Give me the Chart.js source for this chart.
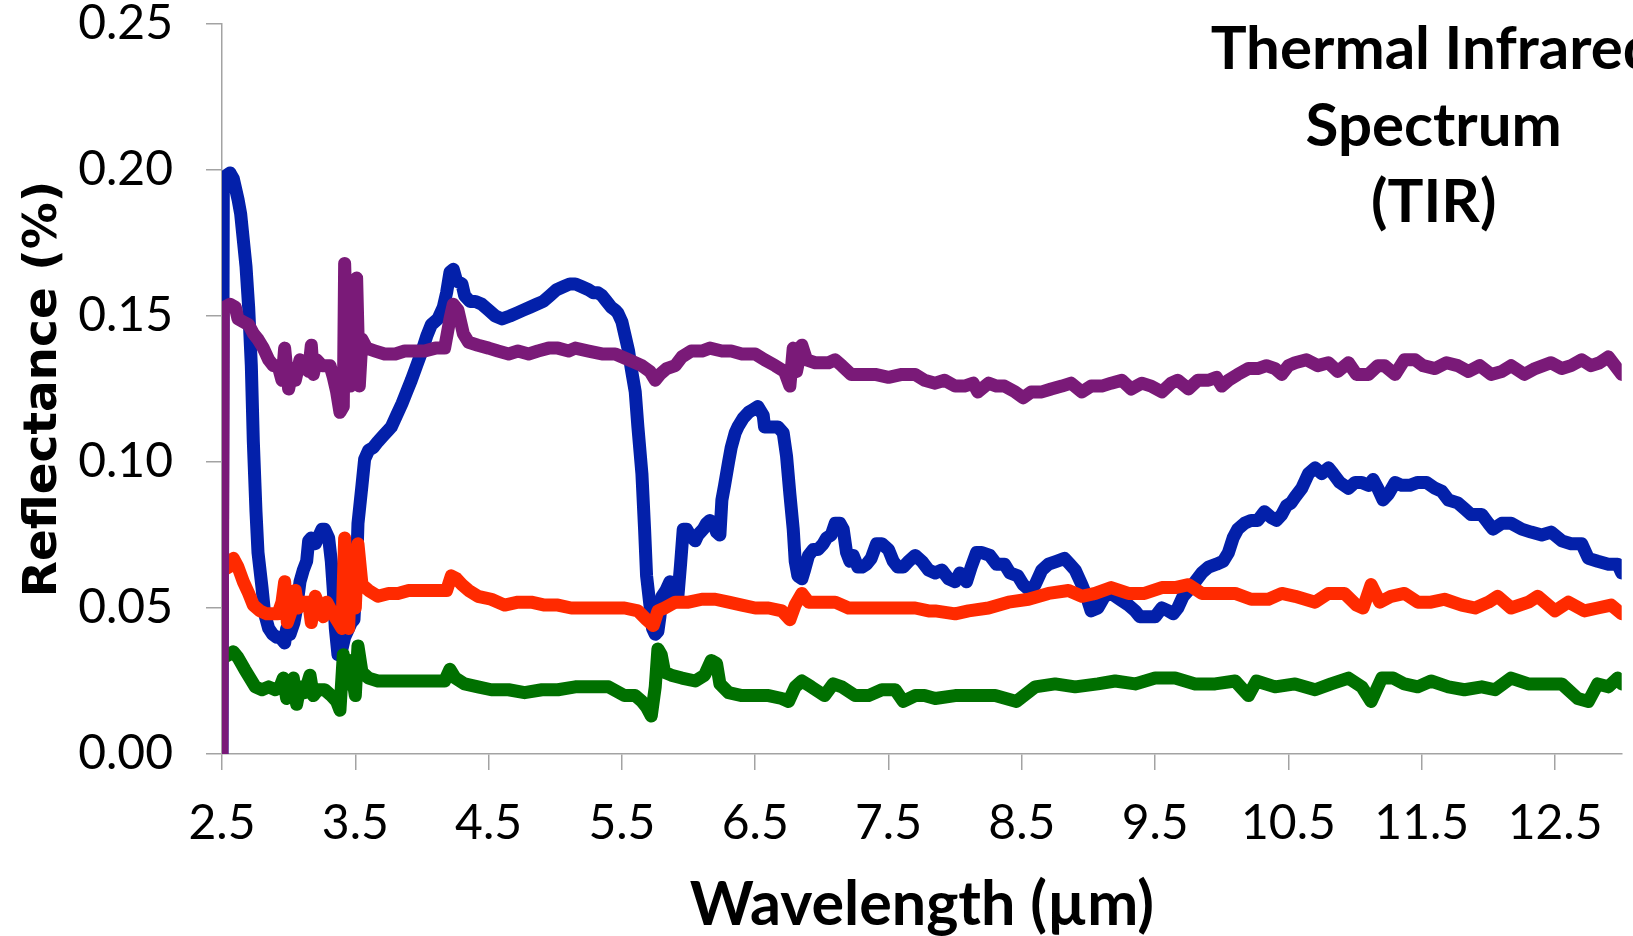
<!DOCTYPE html>
<html>
<head>
<meta charset="utf-8">
<title>Thermal Infrared Spectrum (TIR)</title>
<script src="https://cdn.jsdelivr.net/npm/chart.js@4.4.0/dist/chart.umd.min.js"></script>
<style>
    html, body { margin: 0; padding: 0; background: #fff; }
    #wrap { width: 1633px; height: 936px; }
</style>
</head>
<body>
<div id="wrap"><canvas id="tirChart" width="1633" height="936"></canvas></div>
<script>
// Reflectance spectra, [wavelength in µm, reflectance]
var blueSpec = [[2.50,0],[2.51,0.197],[2.53,0.198],[2.56,0.199],[2.585,0.197],[2.60,0.194],[2.62,0.190],[2.64,0.185],[2.66,0.176],[2.68,0.167],[2.70,0.153],[2.72,0.133],[2.735,0.107],[2.755,0.083],[2.77,0.069],[2.80,0.057],[2.82,0.048],[2.85,0.043],[2.88,0.041],[2.91,0.040],[2.935,0.040],[2.97,0.038],[2.985,0.043],[3.01,0.041],[3.04,0.045],[3.06,0.050],[3.085,0.059],[3.11,0.063],[3.135,0.066],[3.15,0.073],[3.17,0.074],[3.20,0.072],[3.22,0.074],[3.25,0.077],[3.27,0.077],[3.30,0.074],[3.32,0.066],[3.335,0.056],[3.35,0.043],[3.37,0.034],[3.40,0.036],[3.42,0.040],[3.45,0.043],[3.47,0.045],[3.49,0.046],[3.51,0.064],[3.52,0.079],[3.55,0.092],[3.57,0.101],[3.60,0.104],[3.635,0.105],[3.67,0.107],[3.71,0.109],[3.75,0.111],[3.77,0.112],[3.81,0.116],[3.85,0.120],[3.885,0.124],[3.92,0.128],[3.96,0.133],[4.00,0.138],[4.035,0.143],[4.07,0.147],[4.12,0.149],[4.16,0.153],[4.185,0.158],[4.21,0.165],[4.235,0.166],[4.26,0.162],[4.30,0.161],[4.32,0.157],[4.36,0.155],[4.40,0.155],[4.45,0.154],[4.50,0.152],[4.55,0.150],[4.60,0.149],[4.66,0.150],[4.71,0.151],[4.76,0.152],[4.81,0.153],[4.86,0.154],[4.91,0.155],[4.96,0.157],[5.01,0.159],[5.06,0.160],[5.11,0.161],[5.15,0.161],[5.20,0.160],[5.25,0.159],[5.285,0.158],[5.32,0.158],[5.35,0.157],[5.385,0.155],[5.42,0.153],[5.45,0.152],[5.47,0.151],[5.50,0.148],[5.52,0.144],[5.55,0.138],[5.57,0.132],[5.60,0.124],[5.62,0.112],[5.65,0.096],[5.67,0.077],[5.685,0.061],[5.71,0.051],[5.73,0.043],[5.75,0.041],[5.77,0.042],[5.785,0.047],[5.80,0.054],[5.83,0.056],[5.86,0.059],[5.885,0.058],[5.90,0.052],[5.92,0.054],[5.94,0.065],[5.96,0.077],[5.985,0.077],[6.01,0.075],[6.05,0.073],[6.07,0.075],[6.11,0.077],[6.135,0.079],[6.16,0.080],[6.185,0.079],[6.21,0.076],[6.235,0.075],[6.25,0.087],[6.27,0.092],[6.30,0.100],[6.32,0.105],[6.35,0.110],[6.37,0.112],[6.41,0.115],[6.45,0.117],[6.485,0.118],[6.52,0.119],[6.56,0.116],[6.57,0.112],[6.60,0.112],[6.635,0.112],[6.67,0.112],[6.71,0.110],[6.735,0.102],[6.76,0.089],[6.785,0.077],[6.80,0.066],[6.82,0.061],[6.85,0.060],[6.87,0.063],[6.90,0.068],[6.935,0.070],[6.97,0.070],[7.01,0.072],[7.035,0.074],[7.07,0.075],[7.10,0.079],[7.135,0.079],[7.16,0.077],[7.185,0.069],[7.21,0.066],[7.235,0.068],[7.27,0.064],[7.30,0.064],[7.335,0.065],[7.37,0.067],[7.41,0.072],[7.45,0.072],[7.50,0.070],[7.535,0.066],[7.57,0.064],[7.61,0.064],[7.65,0.066],[7.70,0.068],[7.75,0.066],[7.80,0.063],[7.85,0.062],[7.90,0.063],[7.95,0.060],[8.00,0.059],[8.035,0.062],[8.085,0.059],[8.12,0.064],[8.16,0.069],[8.20,0.069],[8.26,0.068],[8.31,0.065],[8.37,0.065],[8.41,0.062],[8.47,0.061],[8.51,0.058],[8.56,0.056],[8.60,0.058],[8.65,0.063],[8.70,0.065],[8.76,0.066],[8.82,0.067],[8.86,0.065],[8.90,0.063],[8.95,0.058],[8.985,0.054],[9.02,0.049],[9.07,0.050],[9.12,0.054],[9.17,0.055],[9.235,0.053],[9.30,0.051],[9.35,0.049],[9.385,0.047],[9.45,0.047],[9.50,0.047],[9.55,0.050],[9.60,0.049],[9.635,0.048],[9.67,0.050],[9.71,0.054],[9.75,0.056],[9.80,0.059],[9.85,0.062],[9.90,0.064],[9.96,0.065],[10.01,0.066],[10.05,0.069],[10.085,0.074],[10.12,0.077],[10.17,0.079],[10.22,0.080],[10.27,0.080],[10.32,0.083],[10.37,0.081],[10.41,0.080],[10.45,0.082],[10.485,0.085],[10.52,0.086],[10.55,0.088],[10.60,0.091],[10.65,0.096],[10.70,0.098],[10.75,0.096],[10.80,0.098],[10.835,0.096],[10.885,0.093],[10.95,0.091],[11.00,0.093],[11.05,0.093],[11.10,0.092],[11.135,0.094],[11.17,0.091],[11.21,0.087],[11.25,0.089],[11.30,0.093],[11.35,0.092],[11.41,0.092],[11.47,0.093],[11.535,0.093],[11.60,0.091],[11.65,0.090],[11.70,0.087],[11.77,0.086],[11.82,0.084],[11.87,0.082],[11.95,0.082],[12.00,0.079],[12.035,0.077],[12.10,0.079],[12.17,0.079],[12.25,0.077],[12.32,0.076],[12.40,0.075],[12.47,0.076],[12.55,0.073],[12.62,0.072],[12.70,0.072],[12.75,0.067],[12.82,0.066],[12.90,0.065],[12.97,0.065],[13.00,0.062]];

var purpleSpec = [[2.50,0],[2.51,0.152],[2.52,0.153],[2.56,0.154],[2.60,0.153],[2.62,0.149],[2.66,0.148],[2.70,0.147],[2.735,0.144],[2.77,0.142],[2.81,0.139],[2.85,0.135],[2.885,0.133],[2.92,0.133],[2.95,0.128],[2.97,0.139],[3.00,0.125],[3.03,0.132],[3.05,0.128],[3.085,0.135],[3.11,0.133],[3.15,0.131],[3.17,0.140],[3.185,0.130],[3.21,0.135],[3.25,0.133],[3.285,0.133],[3.31,0.133],[3.335,0.129],[3.36,0.124],[3.385,0.117],[3.41,0.119],[3.42,0.168],[3.44,0.138],[3.46,0.126],[3.485,0.133],[3.51,0.163],[3.53,0.126],[3.55,0.142],[3.585,0.139],[3.65,0.138],[3.72,0.137],[3.80,0.137],[3.87,0.138],[3.95,0.138],[4.02,0.138],[4.10,0.139],[4.17,0.139],[4.21,0.149],[4.235,0.154],[4.27,0.152],[4.31,0.144],[4.35,0.141],[4.42,0.140],[4.50,0.139],[4.57,0.138],[4.65,0.137],[4.72,0.138],[4.80,0.137],[4.87,0.138],[4.95,0.139],[5.02,0.139],[5.10,0.138],[5.15,0.139],[5.25,0.138],[5.35,0.137],[5.45,0.137],[5.55,0.135],[5.65,0.133],[5.71,0.131],[5.75,0.128],[5.785,0.130],[5.835,0.132],[5.90,0.133],[5.95,0.136],[6.02,0.138],[6.10,0.138],[6.16,0.139],[6.25,0.138],[6.32,0.138],[6.40,0.137],[6.50,0.137],[6.57,0.135],[6.65,0.133],[6.72,0.131],[6.76,0.126],[6.785,0.139],[6.81,0.131],[6.85,0.140],[6.885,0.135],[6.95,0.134],[7.05,0.134],[7.10,0.135],[7.15,0.133],[7.22,0.130],[7.30,0.130],[7.40,0.130],[7.50,0.129],[7.60,0.130],[7.70,0.130],[7.77,0.128],[7.85,0.127],[7.92,0.128],[8.00,0.126],[8.07,0.126],[8.135,0.127],[8.17,0.124],[8.25,0.127],[8.31,0.126],[8.37,0.126],[8.45,0.124],[8.51,0.122],[8.57,0.124],[8.65,0.124],[8.72,0.125],[8.80,0.126],[8.87,0.127],[8.95,0.124],[9.02,0.126],[9.10,0.126],[9.17,0.127],[9.25,0.128],[9.32,0.125],[9.40,0.127],[9.47,0.126],[9.55,0.124],[9.62,0.127],[9.67,0.128],[9.75,0.125],[9.82,0.128],[9.90,0.128],[9.96,0.129],[10.00,0.126],[10.05,0.128],[10.12,0.130],[10.20,0.132],[10.27,0.132],[10.335,0.133],[10.40,0.132],[10.45,0.130],[10.50,0.133],[10.55,0.134],[10.635,0.135],[10.72,0.133],[10.80,0.134],[10.87,0.131],[10.95,0.134],[11.01,0.130],[11.10,0.130],[11.17,0.133],[11.22,0.133],[11.30,0.130],[11.37,0.135],[11.45,0.135],[11.51,0.133],[11.60,0.132],[11.685,0.134],[11.77,0.133],[11.85,0.131],[11.935,0.133],[12.02,0.130],[12.10,0.131],[12.17,0.133],[12.27,0.130],[12.35,0.132],[12.47,0.134],[12.55,0.132],[12.62,0.133],[12.70,0.135],[12.77,0.133],[12.835,0.134],[12.90,0.136],[12.95,0.133],[13.00,0.130]];

var redSpec = [[2.51,0.063],[2.55,0.064],[2.585,0.067],[2.62,0.064],[2.66,0.059],[2.70,0.055],[2.735,0.051],[2.785,0.049],[2.835,0.048],[2.885,0.048],[2.92,0.048],[2.95,0.052],[2.97,0.059],[2.99,0.045],[3.02,0.049],[3.05,0.056],[3.07,0.050],[3.11,0.052],[3.15,0.052],[3.17,0.045],[3.20,0.054],[3.235,0.050],[3.26,0.047],[3.285,0.052],[3.32,0.049],[3.36,0.046],[3.40,0.043],[3.42,0.074],[3.45,0.043],[3.47,0.069],[3.50,0.050],[3.52,0.072],[3.55,0.058],[3.60,0.056],[3.67,0.054],[3.75,0.055],[3.82,0.055],[3.90,0.056],[3.97,0.056],[4.05,0.056],[4.12,0.056],[4.185,0.056],[4.22,0.061],[4.26,0.060],[4.30,0.058],[4.35,0.056],[4.42,0.054],[4.52,0.053],[4.62,0.051],[4.72,0.052],[4.82,0.052],[4.92,0.051],[5.02,0.051],[5.12,0.050],[5.27,0.050],[5.40,0.050],[5.52,0.050],[5.62,0.049],[5.685,0.046],[5.735,0.044],[5.77,0.049],[5.82,0.050],[5.90,0.052],[6.00,0.052],[6.10,0.053],[6.20,0.053],[6.30,0.052],[6.40,0.051],[6.50,0.050],[6.60,0.050],[6.70,0.049],[6.76,0.046],[6.80,0.051],[6.85,0.055],[6.90,0.052],[7.00,0.052],[7.10,0.052],[7.20,0.050],[7.30,0.050],[7.40,0.050],[7.50,0.050],[7.60,0.050],[7.70,0.050],[7.80,0.049],[7.85,0.049],[8.00,0.048],[8.10,0.049],[8.25,0.050],[8.40,0.052],[8.55,0.053],[8.70,0.055],[8.85,0.056],[8.95,0.054],[9.05,0.055],[9.17,0.057],[9.30,0.055],[9.42,0.055],[9.55,0.057],[9.65,0.057],[9.75,0.058],[9.85,0.055],[9.97,0.055],[10.10,0.055],[10.22,0.053],[10.35,0.053],[10.45,0.055],[10.55,0.054],[10.70,0.052],[10.80,0.055],[10.92,0.055],[11.01,0.051],[11.06,0.050],[11.12,0.058],[11.185,0.052],[11.27,0.054],[11.37,0.055],[11.47,0.052],[11.57,0.052],[11.67,0.053],[11.80,0.051],[11.90,0.050],[12.00,0.052],[12.07,0.054],[12.17,0.050],[12.30,0.052],[12.37,0.054],[12.50,0.049],[12.60,0.052],[12.72,0.049],[12.82,0.050],[12.92,0.051],[13.00,0.048]];

var greenSpec = [[2.51,0.033],[2.55,0.034],[2.585,0.035],[2.62,0.033],[2.67,0.029],[2.71,0.026],[2.75,0.023],[2.80,0.022],[2.85,0.023],[2.90,0.022],[2.935,0.023],[2.96,0.026],[2.985,0.019],[3.01,0.022],[3.035,0.026],[3.06,0.017],[3.085,0.023],[3.12,0.021],[3.16,0.027],[3.185,0.020],[3.22,0.022],[3.27,0.022],[3.32,0.020],[3.36,0.018],[3.385,0.015],[3.41,0.034],[3.435,0.024],[3.46,0.032],[3.50,0.020],[3.52,0.037],[3.55,0.028],[3.60,0.026],[3.67,0.025],[3.77,0.025],[3.87,0.025],[3.97,0.025],[4.07,0.025],[4.17,0.025],[4.21,0.029],[4.25,0.026],[4.32,0.024],[4.42,0.023],[4.52,0.022],[4.65,0.022],[4.77,0.021],[4.90,0.022],[5.02,0.022],[5.15,0.023],[5.27,0.023],[5.40,0.023],[5.52,0.020],[5.60,0.020],[5.65,0.018],[5.685,0.016],[5.72,0.013],[5.75,0.023],[5.77,0.036],[5.795,0.034],[5.82,0.028],[5.87,0.027],[5.95,0.026],[6.05,0.025],[6.12,0.027],[6.17,0.032],[6.21,0.031],[6.235,0.024],[6.30,0.021],[6.40,0.020],[6.50,0.020],[6.60,0.020],[6.70,0.019],[6.75,0.018],[6.80,0.023],[6.85,0.025],[6.92,0.023],[7.02,0.020],[7.085,0.024],[7.15,0.023],[7.25,0.020],[7.35,0.020],[7.45,0.022],[7.55,0.022],[7.61,0.018],[7.70,0.020],[7.77,0.020],[7.85,0.019],[8.00,0.020],[8.15,0.020],[8.30,0.020],[8.46,0.018],[8.60,0.023],[8.75,0.024],[8.90,0.023],[9.07,0.024],[9.20,0.025],[9.35,0.024],[9.50,0.026],[9.65,0.026],[9.80,0.024],[9.95,0.024],[10.10,0.025],[10.20,0.020],[10.26,0.025],[10.40,0.023],[10.55,0.024],[10.70,0.022],[10.82,0.024],[10.95,0.026],[11.05,0.023],[11.12,0.018],[11.20,0.026],[11.285,0.026],[11.37,0.024],[11.47,0.023],[11.57,0.025],[11.70,0.023],[11.82,0.022],[11.95,0.023],[12.05,0.022],[12.17,0.026],[12.30,0.024],[12.42,0.024],[12.55,0.024],[12.67,0.019],[12.75,0.018],[12.82,0.024],[12.90,0.023],[12.97,0.026],[13.00,0.024]];

var xTicks = [2.5, 3.5, 4.5, 5.5, 6.5, 7.5, 8.5, 9.5, 10.5, 11.5, 12.5];
var yTicks = [0, 0.05, 0.10, 0.15, 0.20, 0.25];
var titleLines = ['Thermal Infrared', 'Spectrum', '(TIR)'];

var axisGrey = '#a3a3a3';

function toPoints(spec) {
    return spec.map(function (p) { return { x: p[0], y: p[1] }; });
}

function spectrum(data, color, order) {
    return {
        data: toPoints(data),
        borderColor: color,
        backgroundColor: color,
        borderWidth: 13,
        borderJoinStyle: 'round',
        borderCapStyle: 'round',
        pointRadius: 0,
        fill: false,
        tension: 0,
        order: order
    };
}

// three-line label in the upper right corner
var cornerTitle = {
    id: 'cornerTitle',
    afterDraw: function (chart) {
        var ctx = chart.ctx;
        var cx = chart.chartArea.right - 188;
        ctx.save();
        ctx.font = 'bold 60px Lato';
        ctx.fillStyle = '#000';
        ctx.textAlign = 'center';
        ctx.textBaseline = 'alphabetic';
        titleLines.forEach(function (line, i) {
            ctx.fillText(line, cx, 69 + i * 76.5);
        });
        ctx.restore();
    }
};

var ctx = document.getElementById('tirChart').getContext('2d');
var tirChart = new Chart(ctx, {
    type: 'line',
    data: {
        datasets: [
            spectrum(blueSpec, '#0320aa', 3),
            spectrum(redSpec, '#ff2a00', 2),
            spectrum(greenSpec, '#007000', 1),
            spectrum(purpleSpec, '#7a1a78', 0)
        ]
    },
    options: {
        responsive: false,
        animation: false,
        events: [],
        layout: { padding: { top: 24, right: 11, left: 0, bottom: 0 } },
        plugins: {
            legend: { display: false },
            tooltip: { enabled: false }
        },
        scales: {
            x: {
                type: 'linear',
                min: 2.5,
                max: 13,
                afterBuildTicks: function (scale) {
                    scale.ticks = xTicks.map(function (v) { return { value: v }; });
                },
                afterFit: function (scale) { scale.height = 182; },
                grid: { display: true, drawOnChartArea: false, drawTicks: true, tickLength: 16, color: axisGrey, lineWidth: 1.5 },
                border: { display: true, color: axisGrey, width: 1.5 },
                ticks: {
                    autoSkip: false,
                    maxRotation: 0,
                    padding: 30,
                    color: '#000',
                    font: { family: 'Lato', size: 48, lineHeight: 1 },
                    callback: function (v) { return Number(v).toFixed(1); }
                },
                title: {
                    display: true,
                    text: 'Wavelength (µm)',
                    color: '#000',
                    font: { family: 'Lato', size: 61, weight: 'bold', lineHeight: 1 },
                    padding: { top: 0, bottom: 0 }
                }
            },
            y: {
                min: 0,
                max: 0.25,
                afterBuildTicks: function (scale) {
                    scale.ticks = yTicks.map(function (v) { return { value: v }; });
                },
                afterFit: function (scale) {
                    scale.width = 222;
                    // keep the label overhang from pushing the plot down
                    scale.paddingTop = 0;
                    scale.paddingBottom = 0;
                },
                grid: { display: true, drawOnChartArea: false, drawTicks: true, tickLength: 16, color: axisGrey, lineWidth: 1.5 },
                border: { display: true, color: axisGrey, width: 1.5 },
                ticks: {
                    padding: 33,
                    color: '#000',
                    font: { family: 'Lato', size: 48, lineHeight: 1 },
                    callback: function (v) { return Number(v).toFixed(2); }
                },
                title: {
                    display: true,
                    text: 'Reflectance (%)',
                    color: '#000',
                    font: { family: 'DejaVu Sans', size: 47, weight: 'bold', lineHeight: 1 },
                    padding: { top: 20, bottom: 0 }
                }
            }
        }
    },
    plugins: [cornerTitle]
});
</script>
</body>
</html>
